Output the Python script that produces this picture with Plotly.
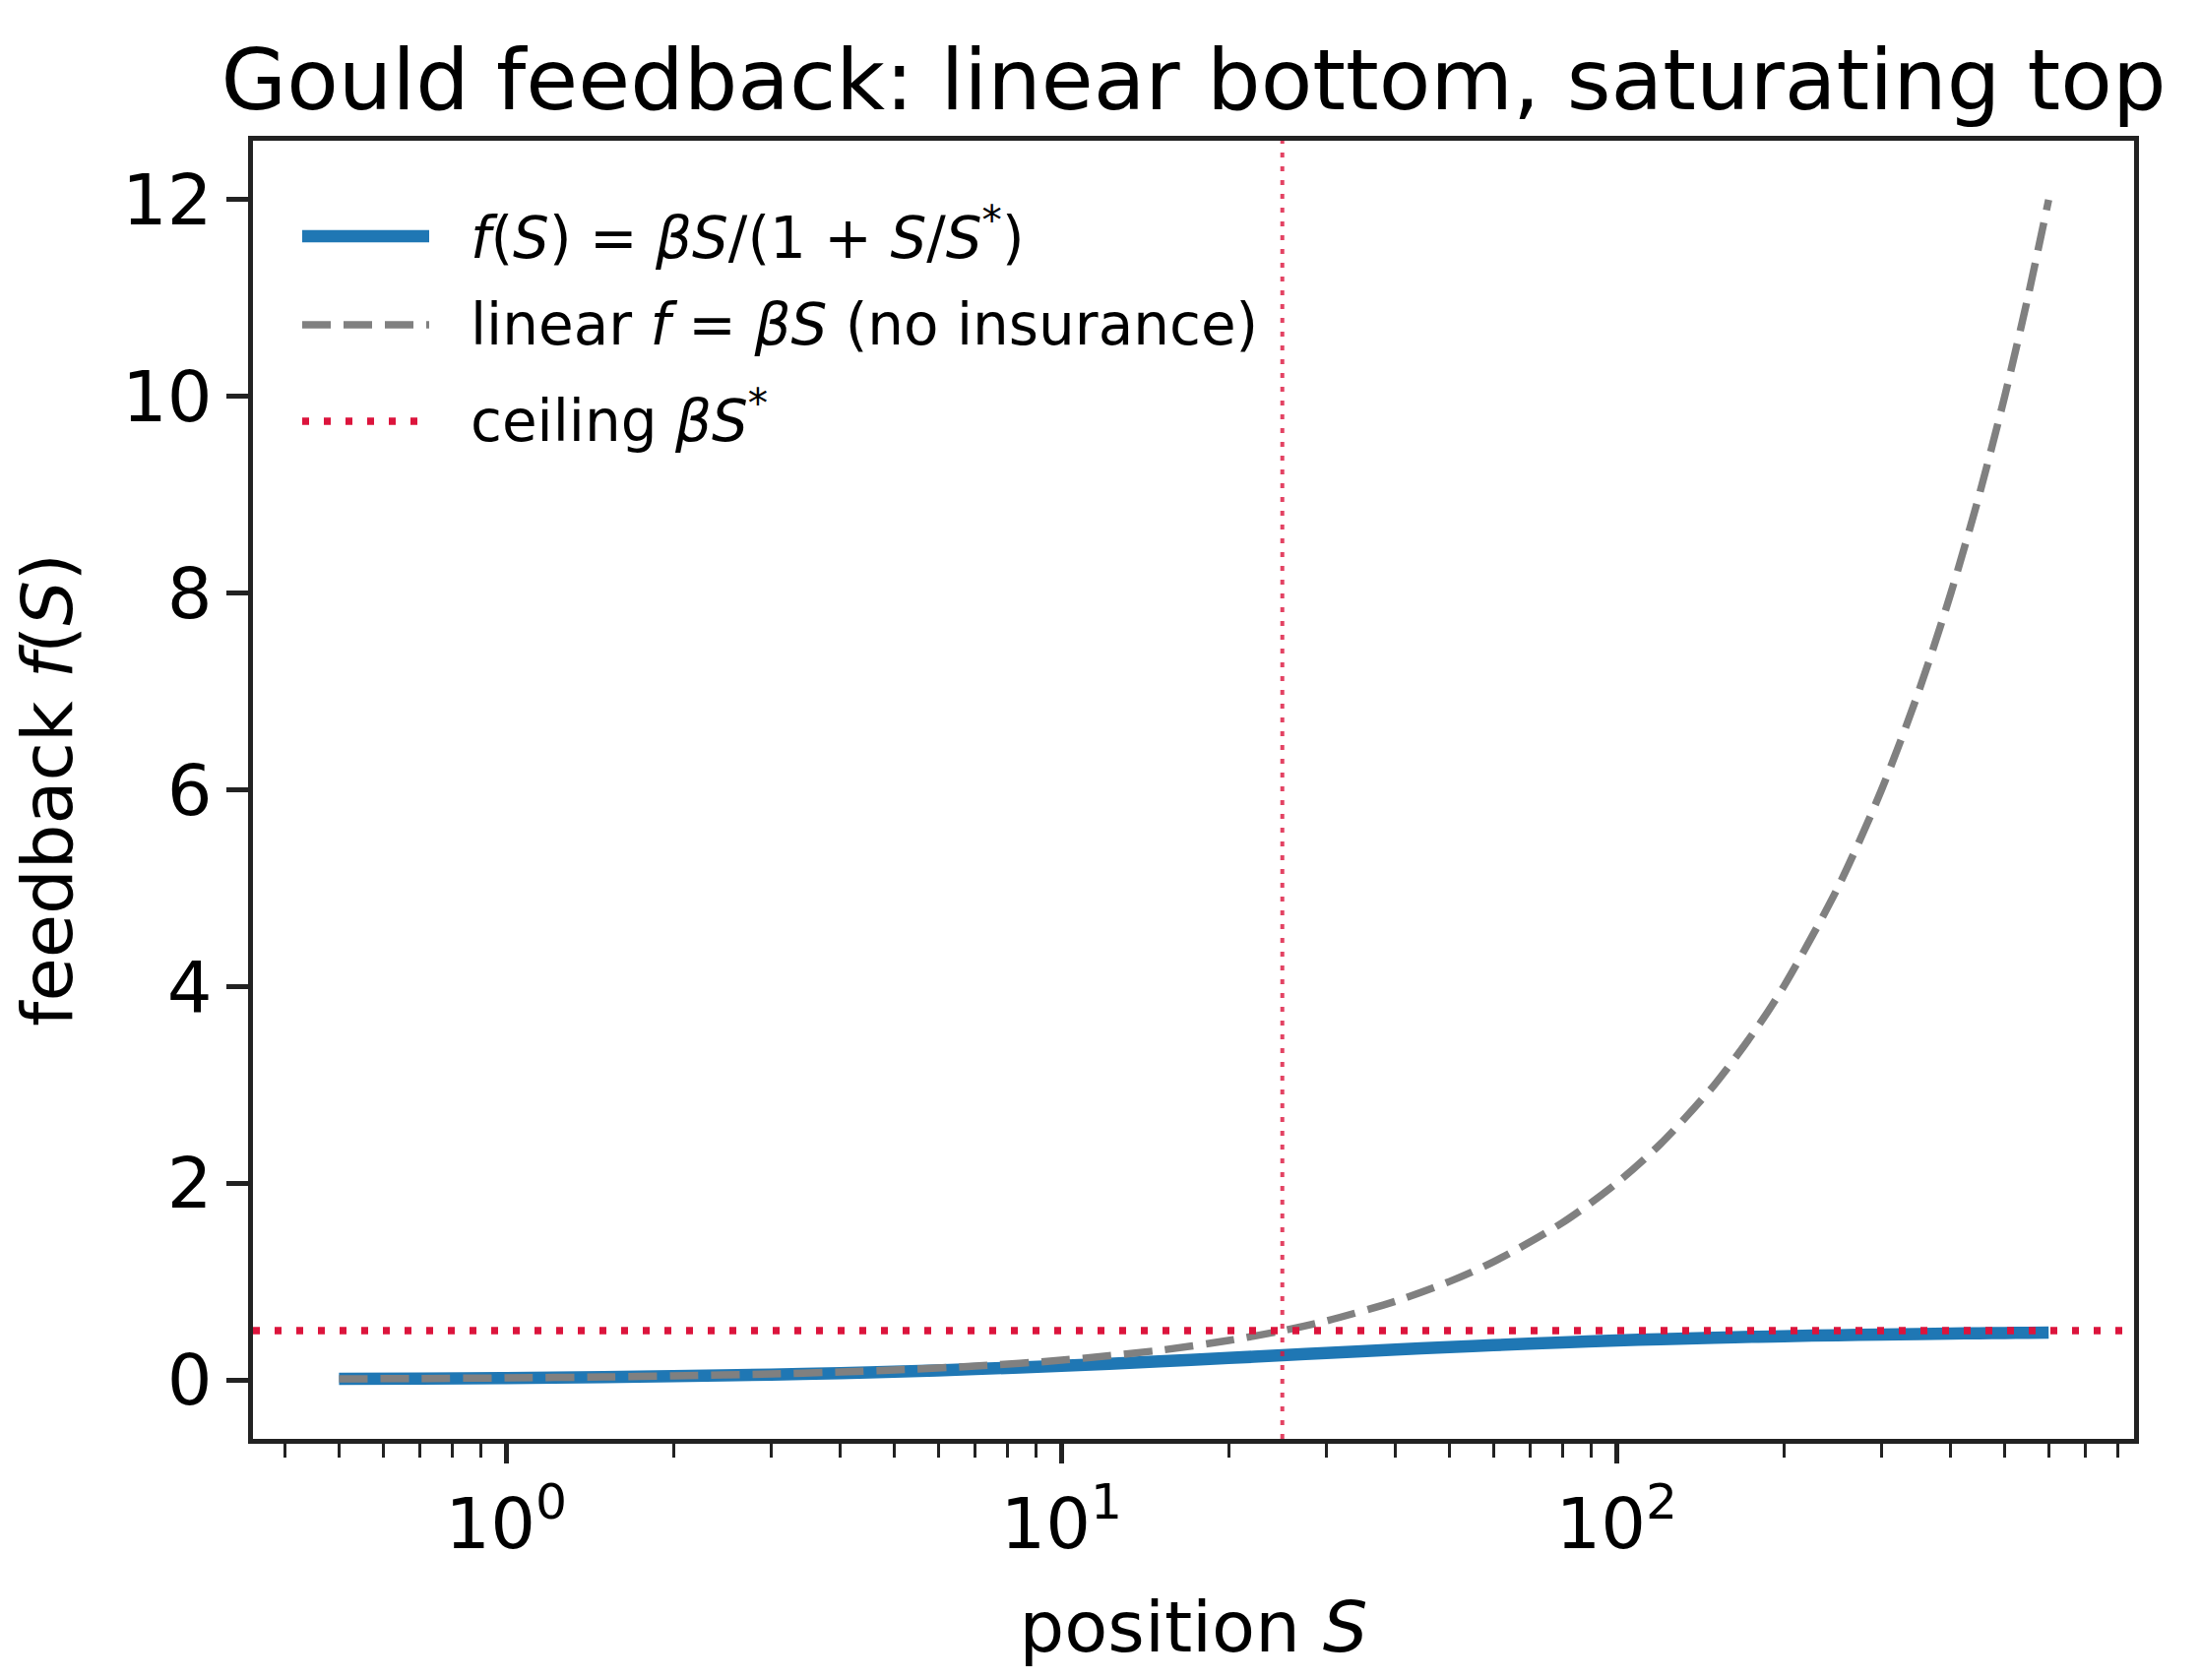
import plotly.graph_objects as go

# ---- data ----
S_values = [0.5, 0.7, 1, 1.5, 2, 3, 4, 5, 7, 10, 15, 20, 25, 30, 40, 50, 60, 80,
            100, 120, 150, 180, 200, 250, 300, 350, 400, 450, 500, 550, 600]
f_saturating = [0.0098, 0.0136, 0.0192, 0.0283, 0.0370, 0.0536, 0.0690, 0.0833,
                0.1094, 0.1429, 0.1875, 0.2222, 0.2500, 0.2727, 0.3077, 0.3333,
                0.3529, 0.3810, 0.4000, 0.4138, 0.4286, 0.4390, 0.4444, 0.4545,
                0.4615, 0.4667, 0.4706, 0.4737, 0.4762, 0.4783, 0.4800]
f_linear = [0.01, 0.014, 0.02, 0.03, 0.04, 0.06, 0.08, 0.10, 0.14, 0.20, 0.30,
            0.40, 0.50, 0.60, 0.80, 1.00, 1.20, 1.60, 2.00, 2.40, 3.00, 3.60,
            4.00, 5.00, 6.00, 7.00, 8.00, 9.00, 10.00, 11.00, 12.00]
S_star = 25
ceiling = 0.5

legend_labels = [
    "<i>f</i>(<i>S</i>) = <i>βS</i>/(1 + <i>S</i>/<i>S</i><sup>*</sup>)",
    "linear <i>f</i> = <i>βS</i> (no insurance)",
    "ceiling <i>βS</i><sup>*</sup>",
]
x_tick_vals = [1, 10, 100]
x_tick_text = ["10<sup>0</sup>", "10<sup>1</sup>", "10<sup>2</sup>"]
x_minor_vals = [0.4, 0.5, 0.6, 0.7, 0.8, 0.9, 2, 3, 4, 5, 6, 7, 8, 9,
                20, 30, 40, 50, 60, 70, 80, 90, 200, 300, 400, 500, 600, 700, 800]
y_tick_vals = [0, 2, 4, 6, 8, 10, 12]

BLUE = "#1f77b4"
GRAY = "#808080"
RED = "#DC143C"
FONT = "DejaVu Sans"

W, H = 2236, 1707
L, R, T, B = 257, 68, 143, 245
pw, ph = W - L - R, H - T - B

def px(x):
    return (x - L) / pw

def py(y):
    return (H - B - y) / ph

fig = go.Figure()
fig.add_trace(go.Scatter(x=S_values, y=f_saturating, mode="lines",
                         line=dict(color=BLUE, width=12.5, shape="spline", smoothing=0.8),
                         showlegend=False))
fig.add_trace(go.Scatter(x=S_values, y=f_linear, mode="lines",
                         line=dict(color=GRAY, width=7.5, dash="29px,13px",
                                   shape="spline", smoothing=0.8),
                         showlegend=False))

# reference lines
fig.add_shape(type="line", xref="paper", yref="y", x0=0, x1=1, y0=ceiling, y1=ceiling,
              line=dict(color=RED, width=7.5, dash="7px,15px"))
fig.add_shape(type="line", xref="x", yref="paper", x0=S_star, x1=S_star, y0=0, y1=1,
              line=dict(color="rgba(220,20,60,0.8)", width=4, dash="5px,9px"))

# manual legend (matplotlib-style, no frame)
rows = [240, 330, 428]
text_rows = [238, 330, 424]
styles = [dict(color=BLUE, width=12.5), dict(color=GRAY, width=7.5, dash="29px,13px"),
          dict(color=RED, width=7.5, dash="7px,15px")]
for yy, ty, st, lab in zip(rows, text_rows, styles, legend_labels):
    fig.add_shape(type="line", xref="paper", yref="paper",
                  x0=px(307), x1=px(436), y0=py(yy), y1=py(yy), line=st)
    fig.add_annotation(xref="paper", yref="paper", x=px(476), y=py(ty),
                       xanchor="left", yanchor="middle", text=lab, showarrow=False,
                       font=dict(family=FONT, size=58, color="black"))

axis_common = dict(showline=True, linecolor="#222222", linewidth=5, mirror=True,
                   showgrid=False, zeroline=False, ticks="outside",
                   tickcolor="#222222", tickfont=dict(family=FONT, size=72, color="black"))

fig.update_xaxes(type="log", range=[-0.456, 2.932], tickvals=x_tick_vals,
                 ticktext=x_tick_text, ticklen=20, tickwidth=5,
                 minor=dict(tickvals=x_minor_vals, ticks="outside", ticklen=14,
                            tickwidth=3, tickcolor="#222222"),
                 title=dict(text="position <i>S</i>", font=dict(family=FONT, size=72, color="black"),
                            standoff=40),
                 **axis_common)
fig.update_yaxes(range=[-0.6, 12.6], tickvals=y_tick_vals, ticklen=22, tickwidth=5,
                 title=dict(text="feedback <i>f</i>(<i>S</i>)",
                            font=dict(family=FONT, size=72, color="black"), standoff=28),
                 **axis_common)

fig.update_layout(
    width=W, height=H,
    margin=dict(l=L, r=R, t=T, b=B, pad=0),
    paper_bgcolor="white", plot_bgcolor="white",
    showlegend=False,
    title=dict(text="Gould feedback: linear bottom, saturating top",
               font=dict(family=FONT, size=86, color="black"),
               x=0.5, xref="paper", xanchor="center",
               y=1 - 81 / H, yanchor="middle"),
)

fig.write_html("out.html")
